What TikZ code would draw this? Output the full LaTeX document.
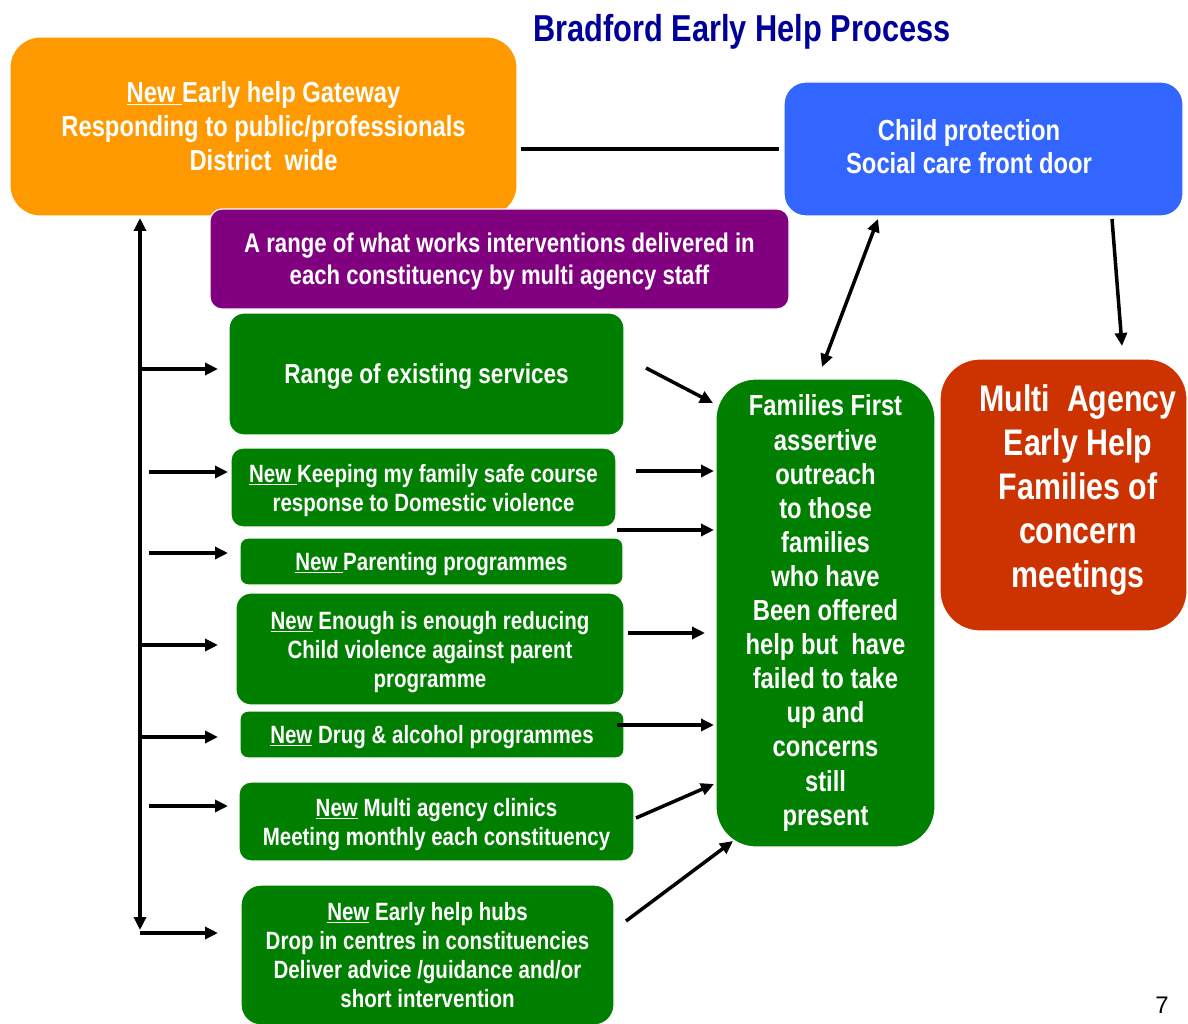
\documentclass[tikz,border=0pt]{standalone}
\usepackage{fontspec}
\setmainfont[FakeStretch=0.82]{Liberation Sans}
\newfontfamily\plainfont{Liberation Sans}
\usetikzlibrary{arrows.meta}
\definecolor{orangeb}{HTML}{FF9900}
\definecolor{purpleb}{HTML}{800080}
\definecolor{blueb}{HTML}{3366FF}
\definecolor{redb}{HTML}{CC3300}
\definecolor{greenb}{HTML}{007F00}
\definecolor{titleblue}{HTML}{000099}
\begin{document}
\begin{tikzpicture}[x=1pt,y=-1pt,
  boxbase/.style={draw=white, line width=1.2pt, inner sep=0pt, text=white, align=center},
  gbox/.style={boxbase, fill=greenb, text depth=0pt, font=\bfseries\fontsize{25}{29}\selectfont},
  conn/.style={line width=3.5pt, -{Triangle[length=13pt,width=12pt]}},
  conntwo/.style={line width=3.5pt, {Triangle[length=13pt,width=12pt]}-{Triangle[length=13pt,width=12pt]}},
  plainline/.style={line width=3.5pt}
]
\useasboundingbox (0,0) rectangle (1188,1024);

% title
\node[text=titleblue, font=\bfseries\fontsize{37.5}{44}\selectfont] (title) at (742,32) {Bradford Early Help Process};

% orange gateway
\node[boxbase, fill=orangeb, rounded corners=30pt, minimum width=507pt, minimum height=179pt,
  font=\bfseries\fontsize{29}{34}\selectfont] (gate) at (263.5,126.5)
  {\underline{New\ }Early help Gateway\\Responding to public/professionals\\District\ \ wide};

% purple
\node[boxbase, fill=purpleb, rounded corners=12pt, minimum width=579pt, minimum height=100pt,
  text depth=0pt, font=\bfseries\fontsize{27}{32}\selectfont] (works) at (499.5,259)
  {A range of what works interventions delivered in\\each constituency by multi agency staff};

% blue
\node[boxbase, fill=blueb, rounded corners=22pt, minimum width=399pt, minimum height=134pt] (cp) at (983.5,149) {};
\node[text=white, align=center, font=\bfseries\fontsize{29}{33}\selectfont] (cptext) at (969,147)
  {Child protection\\Social care front door};

% red
\node[boxbase, fill=redb, rounded corners=40pt, minimum width=247pt, minimum height=272pt] (mac) at (1063.5,495) {};
\node[text=white, align=center, font=\bfseries\fontsize{37}{44}\selectfont] (mactext) at (1078,490)
  {Multi\ \ Agency\\Early Help\\Families of\\concern\\meetings};

% families first
\node[boxbase, fill=greenb, rounded corners=40pt, minimum width=219pt, minimum height=468pt,
  font=\bfseries\fontsize{29}{34.1}\selectfont] (ff) at (825.5,613)
  {Families First\\assertive\\outreach\\to those\\families\\who have\\Been offered\\help but\ \ have\\failed to take\\up and\\concerns\\still\\present};

% left green boxes
\node[gbox, rounded corners=15pt, minimum width=395pt, minimum height=122pt,
  font=\bfseries\fontsize{27.5}{32}\selectfont] (range) at (426.5,374)
  {Range of existing services};
\node[gbox, rounded corners=12pt, minimum width=385pt, minimum height=79pt] (keep) at (423.5,487.5)
  {\underline{New\ }Keeping my family safe course\\response to Domestic violence};
\node[gbox, rounded corners=8pt, minimum width=383pt, minimum height=47pt] (parent) at (431.5,561.5)
  {\underline{New\ }Parenting programmes};
\node[gbox, rounded corners=15pt, minimum width=388pt, minimum height=112pt] (enough) at (430,649)
  {\underline{New} Enough is enough reducing\\Child violence against parent\\programme};
\node[gbox, rounded corners=8pt, minimum width=384pt, minimum height=47pt] (drug) at (432,734.5)
  {\underline{New} Drug \& alcohol programmes};
\node[gbox, rounded corners=12pt, minimum width=395pt, minimum height=79pt] (clinic) at (436.5,821.5)
  {\underline{New} Multi agency clinics\\Meeting monthly each constituency};
\node[gbox, rounded corners=20pt, minimum width=373pt, minimum height=140pt] (hubs) at (427.5,955)
  {\underline{New} Early help hubs\\Drop in centres in constituencies\\Deliver advice /guidance and/or\\short intervention};

% page number
\node[font=\plainfont\fontsize{24}{28}\selectfont] (pagenum) at (1162,1005) {7};

% coordinates
\coordinate (gateR) at (521,149);
\coordinate (cpL) at (779,149);
\coordinate (spineTop) at (140,218);
\coordinate (spineBot) at (140,930);
\coordinate (l1s) at (140,369);  \coordinate (l1e) at (218,369);
\coordinate (l2s) at (149,472);  \coordinate (l2e) at (228,472);
\coordinate (l3s) at (149,553);  \coordinate (l3e) at (228,553);
\coordinate (l4s) at (140,645);  \coordinate (l4e) at (218,645);
\coordinate (l5s) at (140,737);  \coordinate (l5e) at (218,737);
\coordinate (l6s) at (149,806);  \coordinate (l6e) at (228,806);
\coordinate (l7s) at (140,933);  \coordinate (l7e) at (218,933);
\coordinate (r1s) at (646,368);  \coordinate (r1e) at (713,403);
\coordinate (r2s) at (636,471);  \coordinate (r2e) at (714,471);
\coordinate (r3s) at (617,530);  \coordinate (r3e) at (714,530);
\coordinate (r4s) at (628,633);  \coordinate (r4e) at (705,633);
\coordinate (r5s) at (617,725);  \coordinate (r5e) at (714,725);
\coordinate (r6s) at (636,818);  \coordinate (r6e) at (714,784);
\coordinate (r7s) at (626,921);  \coordinate (r7e) at (733,841);
\coordinate (ffT) at (822,367);  \coordinate (cpB) at (878,219);
\coordinate (cpB2) at (1112,219); \coordinate (macT) at (1122,346);

% connectors
\draw[plainline] (gateR) -- (cpL);
\draw[conntwo] (spineBot) -- (spineTop);
\foreach \i in {1,...,7} {\draw[conn] (l\i s) -- (l\i e);}
\foreach \i in {1,...,7} {\draw[conn] (r\i s) -- (r\i e);}
\draw[conntwo] (ffT) -- (cpB);
\draw[conn] (cpB2) -- (macT);
\end{tikzpicture}
\end{document}
